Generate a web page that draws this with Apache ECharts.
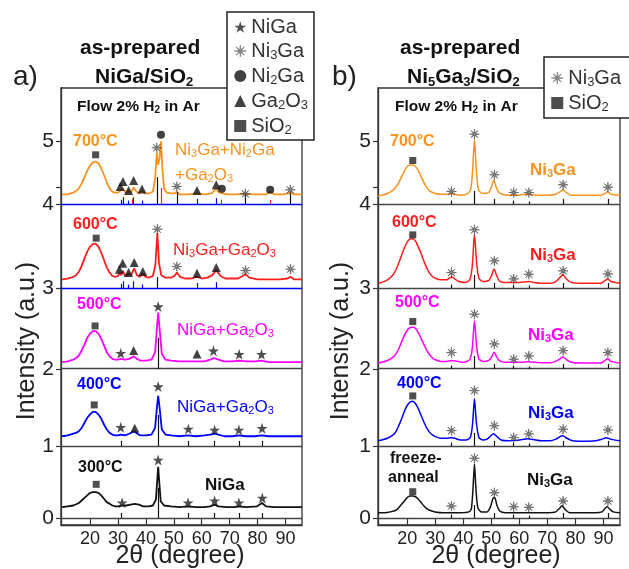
<!DOCTYPE html>
<html><head><meta charset="utf-8">
<script src="https://cdn.jsdelivr.net/npm/echarts@6/dist/echarts.min.js"></script>
<style>html,body{margin:0;padding:0;background:#fff}#c{width:629px;height:569px}</style>
</head><body><div id="c"></div>
<script>
const FONT = '"Liberation Sans", Arial, Helvetica, sans-serif';

// ---------- axes ----------
const xTicks = [20, 30, 40, 50, 60, 70, 80, 90];
const yTickPos = [0.083, 0.94, 1.857, 2.82, 3.82, 4.57];
const yTickLabels = ['0', '1', '2', '3', '4', '5'];
const yMinorTick = [4.02];
// sub-panel bottoms (top to bottom) = separator lines
const subBottoms = [3.82, 2.82, 1.857, 0.94, 0.083];

// ---------- panel a : NiGa/SiO2 ----------
const aOffsets = [3.905, 2.893, 1.917, 1.036, 0.202];
const a700 = [[10,0.03],[12,0.03],[14,0.05],[15,0.07],[16,0.1],[17,0.16],[18,0.23],[19,0.31],[20,0.37],[21,0.41],[22,0.42],[23,0.4],[24,0.34],[25,0.26],[26,0.17],[27,0.1],[28,0.06],[29,0.05],[30,0.05],[31,0.08],[31.8,0.1],[32.8,0.05],[33.8,0.07],[34.6,0.05],[35.6,0.11],[36.6,0.06],[37.6,0.04],[38.6,0.07],[39.6,0.04],[41,0.04],[42.5,0.06],[43.3,0.22],[43.9,0.52],[44.4,0.38],[44.9,0.46],[45.4,0.66],[45.9,0.34],[46.5,0.1],[47.5,0.05],[49,0.04],[50.3,0.04],[51.1,0.06],[52,0.03],[55,0.03],[58.3,0.04],[61,0.03],[63.5,0.04],[64.4,0.07],[65.2,0.1],[66.2,0.05],[67.2,0.045],[69,0.03],[72,0.03],[75.6,0.035],[79,0.03],[83,0.03],[84.5,0.06],[86,0.03],[89,0.03],[90.8,0.04],[91.7,0.055],[93,0.03],[95.9,0.03]];
const a600 = [[10,0.03],[12,0.04],[14,0.06],[15,0.08],[16,0.12],[17,0.19],[18,0.28],[19,0.36],[20,0.42],[21,0.45],[22,0.455],[23,0.42],[24,0.35],[25,0.26],[26,0.17],[27,0.11],[28,0.07],[29,0.06],[30,0.07],[30.6,0.11],[31.1,0.08],[31.7,0.13],[32.6,0.07],[33.8,0.1],[34.7,0.08],[35.8,0.16],[36.8,0.08],[37.8,0.06],[38.9,0.1],[39.9,0.06],[41,0.05],[42.5,0.07],[43.4,0.2],[44.1,0.58],[44.7,0.22],[45.5,0.08],[47,0.05],[49,0.05],[50.2,0.07],[51.1,0.11],[52.2,0.06],[54,0.04],[56,0.04],[58.3,0.06],[60,0.04],[62,0.05],[63.8,0.08],[65.2,0.14],[66.7,0.07],[68.5,0.04],[71,0.04],[73,0.04],[74.6,0.07],[75.7,0.095],[77,0.05],[80,0.03],[84,0.03],[88,0.03],[90.7,0.04],[91.8,0.06],[93,0.03],[95.9,0.03]];
const a500 = [[10,0.02],[12,0.03],[14,0.05],[15,0.07],[16,0.1],[17,0.16],[18,0.23],[19,0.31],[20,0.36],[21,0.39],[22,0.39],[23,0.36],[24,0.3],[25,0.22],[26,0.14],[27,0.09],[28,0.06],[29,0.05],[30,0.05],[31,0.06],[32.5,0.05],[34,0.06],[35.6,0.09],[36.8,0.06],[38,0.04],[40,0.04],[42,0.05],[43.3,0.14],[44,0.45],[44.4,0.61],[44.9,0.42],[45.7,0.12],[47,0.05],[49,0.04],[52,0.03],[55,0.03],[58,0.03],[61,0.03],[63,0.05],[64.4,0.07],[66,0.05],[68,0.03],[71,0.03],[73.3,0.04],[76,0.03],[79,0.03],[81.4,0.04],[84,0.02],[88,0.02],[92,0.02],[95.9,0.02]];
const a400 = [[10,0.02],[12,0.03],[14,0.05],[15,0.06],[16,0.08],[17,0.12],[18,0.18],[19,0.24],[20,0.28],[21,0.31],[22,0.31],[23,0.28],[24,0.23],[25,0.16],[26,0.1],[27,0.06],[28,0.04],[29,0.03],[30,0.03],[31,0.04],[32.5,0.03],[34,0.05],[35.8,0.08],[37,0.05],[38,0.03],[40,0.03],[42,0.04],[43.3,0.12],[44,0.38],[44.4,0.5],[44.9,0.36],[45.7,0.1],[47,0.04],[49,0.03],[52,0.02],[55,0.03],[58,0.02],[61,0.03],[63,0.04],[64.5,0.05],[66,0.04],[68,0.02],[71,0.02],[73.3,0.03],[76,0.02],[79,0.02],[81.5,0.03],[84,0.02],[88,0.02],[92,0.02],[95.9,0.02]];
const a300 = [[10,0.01],[12,0.02],[14,0.03],[16,0.06],[17,0.09],[18,0.12],[19,0.15],[20,0.18],[21,0.19],[22,0.19],[23,0.18],[24,0.15],[25,0.11],[26,0.07],[27,0.05],[28,0.03],[29,0.02],[30,0.02],[31.5,0.03],[33,0.03],[34.5,0.04],[36,0.05],[37.5,0.04],[39,0.02],[41,0.02],[42.5,0.03],[43.6,0.1],[44.1,0.35],[44.4,0.49],[44.7,0.35],[45.3,0.08],[46.5,0.03],[49,0.02],[52,0.01],[55,0.02],[58,0.01],[61,0.01],[63,0.02],[64.6,0.04],[66,0.02],[69,0.01],[71.5,0.01],[73.3,0.02],[76,0.01],[79.8,0.02],[81.6,0.06],[83,0.02],[86,0.01],[90,0.01],[95.9,0.01]];
// markers: [sub-panel, 2θ, height above curve baseline]
const aNiGa = [[2,31.0,0.127],[2,44.4,0.682],[2,64.2,0.155],[2,73.4,0.115],[2,81.4,0.115],[3,31.0,0.127],[3,44.4,0.611],[3,55.2,0.107],[3,64.6,0.095],[3,73.3,0.095],[3,81.6,0.115],[4,31.5,0.063],[4,44.4,0.571],[4,55.1,0.063],[4,64.6,0.087],[4,73.3,0.063],[4,81.7,0.119]];
const aNi3Ga = [[0,43.9,0.583],[0,51.1,0.123],[0,75.6,0.036],[0,91.7,0.083],[1,44.1,0.627],[1,51.1,0.182],[1,75.7,0.135],[1,91.8,0.151]];
const aNi2Ga = [[0,45.4,0.74],[0,67.2,0.095],[0,84.5,0.083]];
const aGa2O3 = [[0,30.8,0.123],[0,31.8,0.182],[0,33.8,0.075],[0,35.6,0.194],[0,38.6,0.092],[0,58.3,0.075],[0,65.2,0.143],[1,30.5,0.151],[1,31.7,0.222],[1,33.8,0.111],[1,35.8,0.23],[1,38.9,0.123],[1,58.3,0.103],[1,65.2,0.17],[2,35.6,0.158],[2,58.3,0.119],[3,36.0,0.115]];
const aSiO2 = [[0,22.0,0.5],[1,22.2,0.52],[2,21.8,0.452],[3,21.5,0.393],[4,22.2,0.282]];
// reference sticks: [sub-panel, 2θ, height above separator]
const aSticksBlack = [[0,43.9,0.32],[0,51.1,0.14],[0,75.6,0.13],[0,91.7,0.13],[1,44.1,0.13],[2,44.4,0.37],[3,44.4,0.37],[3,31.0,0.06],[3,55.2,0.06],[3,64.6,0.06],[3,73.3,0.06],[3,81.6,0.06],[4,44.4,0.36],[4,31.0,0.06],[4,55.2,0.06],[4,64.6,0.06],[4,73.3,0.06],[4,81.6,0.06]];
const aSticksRed = [[0,45.4,0.19],[0,35.1,0.06],[0,67.0,0.05],[0,84.5,0.05]];
const aSticksBlue = [[0,31.0,0.05],[0,31.8,0.08],[0,33.8,0.04],[0,35.4,0.08],[0,38.6,0.04],[0,58.3,0.06],[0,65.2,0.07],[1,31.0,0.05],[1,31.8,0.08],[1,33.8,0.04],[1,35.4,0.08],[1,38.6,0.04],[1,58.3,0.06],[1,65.2,0.07]];

// ---------- panel b : Ni5Ga3/SiO2 ----------
const bOffsets = [3.905, 2.857, 1.917, 0.992, 0.146];
const b700 = [[9.6,0.01],[11,0.02],[13,0.04],[15,0.08],[16,0.12],[17,0.17],[18,0.24],[19,0.31],[20,0.36],[21,0.38],[22,0.38],[23,0.36],[24,0.31],[25,0.24],[26,0.17],[27,0.11],[28,0.07],[30,0.04],[32,0.03],[34,0.03],[35.8,0.04],[37,0.03],[39,0.02],[41,0.03],[42.6,0.08],[43.3,0.3],[44,0.68],[44.7,0.3],[45.5,0.08],[47,0.04],[49,0.05],[50,0.11],[50.9,0.2],[51.7,0.12],[52.7,0.05],[54,0.03],[56,0.02],[58,0.02],[60,0.02],[62,0.03],[63.6,0.03],[66,0.02],[70,0.02],[73,0.03],[74.5,0.06],[75.5,0.083],[76.8,0.05],[78.5,0.02],[82,0.02],[86,0.02],[89,0.02],[90.5,0.04],[91.5,0.06],[92.7,0.03],[95.9,0.02]];
const b600 = [[9.6,0.02],[11,0.03],[13,0.06],[15,0.12],[16,0.18],[17,0.26],[18,0.35],[19,0.44],[20,0.51],[21,0.545],[22,0.55],[23,0.52],[24,0.45],[25,0.37],[26,0.28],[27,0.2],[28,0.14],[29,0.1],[30,0.08],[32,0.06],[34,0.06],[35,0.08],[36,0.095],[37,0.07],[38.5,0.04],[40.5,0.03],[42.3,0.06],[43.2,0.22],[44,0.6],[44.8,0.25],[45.6,0.08],[47,0.04],[49,0.05],[50.2,0.12],[51,0.19],[51.8,0.12],[52.8,0.05],[54.5,0.03],[56.5,0.03],[58,0.03],[60,0.03],[62,0.035],[63.5,0.04],[65,0.03],[68,0.02],[71,0.02],[73,0.04],[74.5,0.09],[75.5,0.12],[76.8,0.07],[78.5,0.03],[82,0.02],[86,0.02],[89,0.02],[90.5,0.05],[91.5,0.07],[92.7,0.04],[95.9,0.02]];
const b500 = [[9.6,0.01],[11,0.02],[13,0.04],[15,0.08],[16,0.12],[17,0.18],[18,0.26],[19,0.34],[20,0.4],[21,0.43],[22,0.44],[23,0.42],[24,0.37],[25,0.3],[26,0.23],[27,0.16],[28,0.11],[29,0.07],[30,0.05],[32,0.03],[34,0.03],[36,0.04],[38,0.03],[40,0.02],[42.3,0.05],[43.2,0.18],[44,0.51],[44.8,0.2],[45.6,0.06],[47,0.03],[49,0.04],[50.2,0.09],[51,0.14],[51.8,0.09],[52.8,0.04],[55,0.02],[58,0.02],[61,0.02],[63,0.025],[65,0.02],[68,0.015],[71,0.015],[73,0.03],[74.5,0.06],[75.5,0.083],[76.8,0.05],[78.5,0.02],[82,0.01],[86,0.01],[89,0.01],[90.5,0.04],[91.5,0.06],[92.7,0.03],[95.9,0.01]];
const b400 = [[9.6,0.01],[11,0.02],[13,0.04],[15,0.08],[16,0.12],[17,0.19],[18,0.27],[19,0.36],[20,0.43],[21,0.47],[22,0.48],[23,0.45],[24,0.39],[25,0.31],[26,0.23],[27,0.16],[28,0.11],[29,0.08],[30,0.06],[32,0.04],[34,0.04],[35.8,0.045],[37,0.04],[39,0.02],[41,0.02],[42.5,0.05],[43.3,0.2],[44,0.51],[44.7,0.22],[45.6,0.05],[47,0.02],[48.5,0.03],[49.8,0.07],[50.8,0.095],[52,0.06],[53.5,0.02],[56,0.01],[59,0.015],[61,0.025],[63,0.035],[65,0.025],[68,0.01],[71,0.01],[73,0.03],[74.5,0.06],[75.5,0.07],[77,0.04],[79,0.01],[83,0.005],[87,0.01],[89.5,0.03],[91,0.045],[92.5,0.03],[95.9,0.01]];
const bFA = [[9.6,0.0],[12,0.0],[14,0.01],[16,0.03],[17,0.06],[18,0.1],[19,0.14],[20,0.18],[21,0.2],[22,0.2],[23,0.19],[24,0.16],[25,0.12],[26,0.08],[27,0.05],[28,0.03],[30,0.01],[33,0.0],[36,0.0],[39,0.0],[42,0.01],[42.9,0.05],[43.5,0.3],[44,0.58],[44.5,0.3],[45.2,0.06],[46.5,0.01],[48.5,0.01],[49.7,0.07],[50.6,0.17],[51.2,0.18],[52,0.09],[53,0.02],[55,0.0],[58,0.0],[62,0.0],[66,0.0],[70,0.0],[73,0.01],[74.3,0.05],[75.2,0.083],[76.3,0.04],[78,0.0],[82,0.0],[87,0.0],[89.5,0.01],[90.5,0.05],[91.3,0.071],[92.3,0.04],[93.5,0.01],[95.9,0.0]];
const bNi3GaPos = [35.8, 44.0, 51.1, 58.0, 63.4, 75.6, 91.6];
const bNi3GaH = [
  [0.063, 0.746, 0.262, 0.051, 0.051, 0.143, 0.115],
  [0.146, 0.655, 0.286, 0.071, 0.127, 0.167, 0.131],
  [0.135, 0.592, 0.238, 0.056, 0.095, 0.158, 0.135],
  [0.131, 0.607, 0.19, 0.048, 0.092, 0.148, 0.139],
  [0.08, 0.648, 0.238, 0.071, 0.064, 0.139, 0.139]
];
const bSiO2 = [[0,22,0.432],[1,22,0.595],[2,22,0.504],[3,22,0.544],[4,22,0.25]];
const bStickH = [0.04, 0.155, 0.06, 0.04, 0.03, 0.06, 0.06];

// ---------- symbols ----------
const STAR = 'path://M10 0 L12.25 6.91 L19.51 6.91 L13.63 11.18 L15.88 18.09 L10 13.82 L4.12 18.09 L6.37 11.18 L0.49 6.91 L7.75 6.91 Z';
const ASTER = 'path://M10 0 L10.84 7.97 L17.07 2.93 L12.03 9.16 L20 10 L12.03 10.84 L17.07 17.07 L10.84 12.03 L10 20 L9.16 12.03 L2.93 17.07 L7.97 10.84 L0 10 L7.97 9.16 L2.93 2.93 L9.16 7.97 Z';

const C = {o:'#F7931E', r:'#FF1E1E', m:'#FF00FF', b:'#0000FF', k:'#111111'};
const aColors = [C.o, C.r, C.m, C.b, C.k];
const bColors = [C.o, C.r, C.m, C.b, C.k];

function rich(str){ return ('{n|' + str.replace(/_(\d)/g, '}{s|$1}{n|') + '}').replace('{n|}', ''); }
function richStyles(size, weight, color){
  return {
    n: {fontSize:size, fontWeight:weight, fill:color, color:color, fontFamily:FONT, lineHeight:Math.round(size*1.1), verticalAlign:'middle'},
    s: {fontSize:Math.round(size*0.64), fontWeight:weight, fill:color, color:color, fontFamily:FONT, lineHeight:Math.round(size*0.64), verticalAlign:'bottom'}
  };
}

const series = [];
function curve(data, off, color, gi, width){
  series.push({type:'line', xAxisIndex:gi, yAxisIndex:gi, data:data.map(p=>[p[0], p[1]+off]),
    showSymbol:false, symbol:'none', lineStyle:{color, width}, smooth:gi===1?0.25:false, silent:true, z:3});
}
function markers(name, list, offs, gi, symbol, size, style){
  series.push({type:'scatter', name, xAxisIndex:gi, yAxisIndex:gi, symbol, symbolSize:size,
    itemStyle:style, data:list.map(m=>[m[1], offs[m[0]]+m[2]]), z:6, silent:true});
}
function sticks(list, gi, color, width){
  series.push({type:'line', xAxisIndex:gi, yAxisIndex:gi, data:[], silent:true, z:4,
    markLine:{silent:true, symbol:['none','none'], label:{show:false}, animation:false,
      lineStyle:{color, width, type:'solid'},
      data:list.map(s=>[{coord:[s[1], subBottoms[s[0]]]},{coord:[s[1], subBottoms[s[0]]+s[2]]}])}});
}
function separators(gi, colors){
  series.push({type:'line', xAxisIndex:gi, yAxisIndex:gi, data:[], silent:true, z:4,
    markLine:{silent:true, symbol:['none','none'], label:{show:false}, animation:false,
      data:subBottoms.map((v,i)=>({yAxis:v, lineStyle:{color:colors[i], width:1.3, type:'solid'}}))}});
}

// panel a
[a700,a600,a500,a400,a300].forEach((d,i)=>curve(d, aOffsets[i], aColors[i], 0, 1.8));
separators(0, [C.b, C.b, '#444', '#444', '#444']);
sticks(aSticksBlack, 0, '#111', 1.2);
sticks(aSticksRed, 0, '#FF1E1E', 1.2);
sticks(aSticksBlue, 0, '#0000FF', 1.2);
const starStyle = {color:'#222'};
const asterStyle = {color:'#777', borderColor:'#333', borderWidth:0.6, borderJoin:'round'};
markers('NiGa', aNiGa, aOffsets, 0, STAR, 11, starStyle);
markers('Ni3Ga', aNi3Ga, aOffsets, 0, ASTER, 10, asterStyle);
markers('Ni2Ga', aNi2Ga, aOffsets, 0, 'circle', 8, {color:'#111'});
markers('Ga2O3', aGa2O3, aOffsets, 0, 'triangle', 9, {color:'#111'});
markers('SiO2', aSiO2, aOffsets, 0, 'rect', 7, {color:'#222'});

// panel b
[b700,b600,b500,b400,bFA].forEach((d,i)=>curve(d, bOffsets[i], bColors[i], 1, 1.5));
separators(1, ['#444','#444','#444','#444','#444']);
const bSticks = [];
subBottoms.forEach((_,si)=>bNi3GaPos.forEach((x,k)=>bSticks.push([si, x, bStickH[k]])));
sticks(bSticks, 1, '#111', 1.2);
const bNi3Ga = [];
bNi3GaH.forEach((row,si)=>row.forEach((h,k)=>bNi3Ga.push([si, bNi3GaPos[k], h])));
markers('Ni3Ga', bNi3Ga, bOffsets, 1, ASTER, 10, asterStyle);
markers('SiO2', bSiO2, bOffsets, 1, 'rect', 7, {color:'#222'});

// ---------- axes ----------
function xAxis(gi){
  return {type:'value', gridIndex:gi, min:9.6, max:95.9,
    axisLine:{show:true, lineStyle:{color:'#333', width:1.3}},
    axisTick:{show:true, inside:true, length:6, customValues:xTicks, lineStyle:{color:'#333', width:1.2}},
    axisLabel:{customValues:xTicks, fontSize:18, margin:5, color:'#222', fontFamily:FONT},
    splitLine:{show:false}};
}
function yAxis(gi){
  return {type:'value', gridIndex:gi, min:0, max:5.2,
    axisLine:{show:true, lineStyle:{color:'#333', width:1.3}},
    axisTick:{show:true, inside:false, length:5, customValues:yTickPos.concat(yMinorTick), lineStyle:{color:'#333', width:1.2}},
    axisLabel:{customValues:yTickPos, fontSize:21, margin:7, color:'#222', fontFamily:FONT,
      formatter:v=>{let bi=0; yTickPos.forEach((p,i)=>{if(Math.abs(p-v)<Math.abs(yTickPos[bi]-v)) bi=i;}); return yTickLabels[bi];}},
    splitLine:{show:false}};
}

const legendNames = {NiGa:'NiGa', Ni3Ga:'Ni_3Ga', Ni2Ga:'Ni_2Ga', Ga2O3:'Ga_2O_3', SiO2:'SiO_2'};
const legendIcons = {NiGa:STAR, Ni3Ga:ASTER, Ni2Ga:'circle', Ga2O3:'triangle', SiO2:'rect'};
function legend(names, left, top, padding){
  return {orient:'vertical', left, top, padding, itemGap:4, itemWidth:12, itemHeight:12,
    backgroundColor:'#fff', borderColor:'#222', borderWidth:1.5, selectedMode:false,
    itemStyle:{borderWidth:0},
    data:names.map(n=>({name:n, icon:legendIcons[n],
      itemStyle: n==='Ni3Ga' ? {color:'#777', borderColor:'#444', borderWidth:0.5, borderJoin:'round'} : {borderWidth:0}})),
    formatter:n=>rich(legendNames[n]),
    textStyle:{fontSize:20, color:'#333', fontFamily:FONT, rich:richStyles(20,'normal','#333')}};
}

// ---------- text annotations (layout) ----------
const notes = [
  ['a)', 13, 77, '#222', 28, 'normal'],
  ['as-prepared', 80, 48, '#111', 21, 'bold'],
  ['NiGa/SiO_2', 95, 77, '#111', 21, 'bold'],
  ['Flow 2% H_2 in Ar', 77, 107, '#111', 15.5, 'bold'],
  ['700°C', 73, 142, C.o, 16, 'bold'],
  ['Ni_3Ga+Ni_2Ga', 175, 150, C.o, 17, 'normal'],
  ['+Ga_2O_3', 175, 175, C.o, 17, 'normal'],
  ['600°C', 73, 225, C.r, 16, 'bold'],
  ['Ni_3Ga+Ga_2O_3', 173, 250, C.r, 17, 'normal'],
  ['500°C', 77, 305, C.m, 16, 'bold'],
  ['NiGa+Ga_2O_3', 177, 330, C.m, 17, 'normal'],
  ['400°C', 77, 385, C.b, 16, 'bold'],
  ['NiGa+Ga_2O_3', 177, 407, C.b, 17, 'normal'],
  ['300°C', 78, 468, C.k, 16, 'bold'],
  ['NiGa', 205, 485, C.k, 17, 'bold'],
  ['b)', 332, 77, '#222', 28, 'normal'],
  ['as-prepared', 400, 48, '#111', 21, 'bold'],
  ['Ni_5Ga_3/SiO_2', 407, 77, '#111', 21, 'bold'],
  ['Flow 2% H_2 in Ar', 395, 107, '#111', 15.5, 'bold'],
  ['700°C', 390, 142, C.o, 16, 'bold'],
  ['Ni_3Ga', 530, 170, C.o, 17, 'bold'],
  ['600°C', 392, 223, C.r, 16, 'bold'],
  ['Ni_3Ga', 530, 255, C.r, 17, 'bold'],
  ['500°C', 395, 303, C.m, 16, 'bold'],
  ['Ni_3Ga', 528, 335, C.m, 17, 'bold'],
  ['400°C', 397, 384, C.b, 16, 'bold'],
  ['Ni_3Ga', 528, 413, C.b, 17, 'bold'],
  ['freeze-', 390, 459, C.k, 16, 'bold'],
  ['anneal', 388, 478, C.k, 16, 'bold'],
  ['Ni_3Ga', 527, 480, C.k, 17, 'bold']
];
const graphic = notes.map(n=>({type:'text', x:n[1], y:n[2], z:20,
  style:{text:rich(n[0]), rich:richStyles(n[4], n[5], n[3]), align:'left', verticalAlign:'middle'}}));
[[27,341],[341,341]].forEach(p=>graphic.push({type:'text', x:p[0], y:p[1], rotation:Math.PI/2, z:20,
  style:{text:'Intensity (a.u.)', fontSize:25, fill:'#222', fontFamily:FONT, align:'center', verticalAlign:'middle'}}));
[[180,556],[496,556]].forEach(p=>graphic.push({type:'text', x:p[0], y:p[1], z:20,
  style:{text:'2θ (degree)', fontSize:25, fill:'#222', fontFamily:FONT, align:'center', verticalAlign:'middle'}}));

const chart = echarts.init(document.getElementById('c'), null, {renderer:'canvas'});
chart.setOption({
  animation:false,
  backgroundColor:'#fff',
  grid:[
    {left:61, top:88, width:241, height:437, show:true, borderColor:'#333', borderWidth:1.3, containLabel:false},
    {left:378, top:88, width:242, height:437, show:true, borderColor:'#333', borderWidth:1.3, containLabel:false}
  ],
  xAxis:[xAxis(0), xAxis(1)],
  yAxis:[yAxis(0), yAxis(1)],
  legend:[legend(['NiGa','Ni3Ga','Ni2Ga','Ga2O3','SiO2'], 227, 12, [5,6,3,7]),
          legend(['Ni3Ga','SiO2'], 544, 57, [11,10,4,7])],
  graphic,
  series
});
</script></body></html>
